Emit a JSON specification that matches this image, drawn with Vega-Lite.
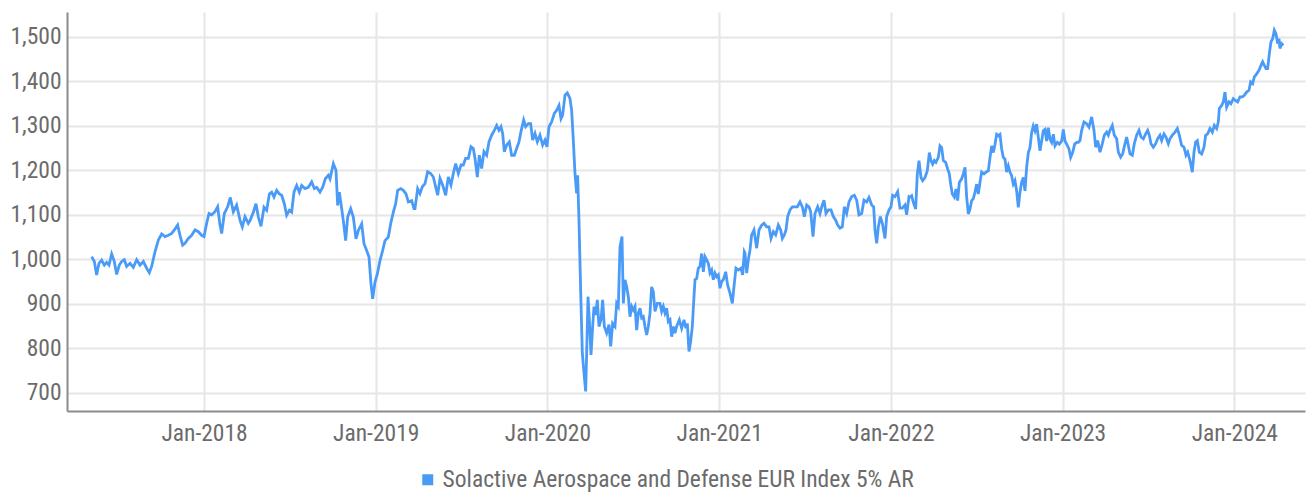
{
"$schema": "https://vega.github.io/schema/vega-lite/v6.json",
"width": 1238, "height": 399,
"autosize": {"type": "none"},
"padding": {"left": 67, "top": 12, "right": 1, "bottom": 83},
"background": "white",
"config": {"view": {"stroke": null}, "font": "Roboto Condensed, Roboto, sans-serif"},
"data": {"values": [
{"year":2017.3458,"value":1006},{"year":2017.3614,"value":995},{"year":2017.3749,"value":965},{"year":2017.3885,"value":991},{"year":2017.4041,"value":998},{"year":2017.4196,"value":987},{"year":2017.4332,"value":993},{"year":2017.4468,"value":987},{"year":2017.4623,"value":1012},{"year":2017.4778,"value":995},{"year":2017.4914,"value":966},{"year":2017.5069,"value":987},{"year":2017.5205,"value":995},{"year":2017.5360,"value":999},{"year":2017.5496,"value":984},{"year":2017.5690,"value":991},{"year":2017.5885,"value":982},{"year":2017.6079,"value":999},{"year":2017.6273,"value":987},{"year":2017.6467,"value":995},{"year":2017.6661,"value":980},{"year":2017.6816,"value":970},{"year":2017.6952,"value":984},{"year":2017.7146,"value":1017},{"year":2017.7340,"value":1043},{"year":2017.7535,"value":1057},{"year":2017.7729,"value":1051},{"year":2017.7923,"value":1054},{"year":2017.8117,"value":1058},{"year":2017.8272,"value":1066},{"year":2017.8466,"value":1077},{"year":2017.8602,"value":1054},{"year":2017.8757,"value":1032},{"year":2017.8893,"value":1036},{"year":2017.9087,"value":1047},{"year":2017.9282,"value":1054},{"year":2017.9476,"value":1066},{"year":2017.9670,"value":1062},{"year":2017.9864,"value":1054},{"year":2018.0000,"value":1051},{"year":2018.0155,"value":1081},{"year":2018.0291,"value":1103},{"year":2018.0446,"value":1100},{"year":2018.0640,"value":1107},{"year":2018.0796,"value":1118},{"year":2018.0931,"value":1077},{"year":2018.1029,"value":1058},{"year":2018.1184,"value":1103},{"year":2018.1378,"value":1118},{"year":2018.1533,"value":1139},{"year":2018.1708,"value":1107},{"year":2018.1902,"value":1122},{"year":2018.2096,"value":1088},{"year":2018.2232,"value":1073},{"year":2018.2387,"value":1096},{"year":2018.2581,"value":1081},
{"year":2018.2679,"value":1087},{"year":2018.2873,"value":1106},{"year":2018.3028,"value":1125},{"year":2018.3164,"value":1095},{"year":2018.3320,"value":1074},{"year":2018.3494,"value":1117},{"year":2018.3650,"value":1110},{"year":2018.3805,"value":1147},{"year":2018.3941,"value":1151},{"year":2018.4077,"value":1140},{"year":2018.4232,"value":1155},{"year":2018.4387,"value":1147},{"year":2018.4523,"value":1144},{"year":2018.4678,"value":1125},{"year":2018.4814,"value":1099},{"year":2018.4969,"value":1110},{"year":2018.5105,"value":1106},{"year":2018.5241,"value":1151},{"year":2018.5397,"value":1166},{"year":2018.5552,"value":1151},{"year":2018.5688,"value":1166},{"year":2018.5882,"value":1159},{"year":2018.6076,"value":1162},{"year":2018.6270,"value":1174},{"year":2018.6425,"value":1159},{"year":2018.6561,"value":1162},{"year":2018.6755,"value":1151},{"year":2018.6911,"value":1162},{"year":2018.7066,"value":1181},{"year":2018.7241,"value":1189},{"year":2018.7338,"value":1181},{"year":2018.7532,"value":1215},{"year":2018.7687,"value":1200},{"year":2018.7784,"value":1121},{"year":2018.7881,"value":1151},{"year":2018.7978,"value":1125},{"year":2018.8114,"value":1087},{"year":2018.8250,"value":1042},{"year":2018.8366,"value":1095},{"year":2018.8541,"value":1114},{"year":2018.8696,"value":1095},{"year":2018.8852,"value":1046},{"year":2018.8988,"value":1065},{"year":2018.9182,"value":1080},{"year":2018.9318,"value":1035},{"year":2018.9473,"value":1020},{"year":2018.9609,"value":1005},{"year":2018.9725,"value":945},{"year":2018.9822,"value":911},{"year":2018.9958,"value":949},{"year":2019.0094,"value":967},{"year":2019.0249,"value":997},{"year":2019.0405,"value":1020},{"year":2019.0540,"value":1042},{"year":2019.0735,"value":1050},{"year":2019.0870,"value":1080},{"year":2019.1026,"value":1106},{"year":2019.1162,"value":1125},{"year":2019.1278,"value":1155},{"year":2019.1453,"value":1159},{"year":2019.1608,"value":1155},{"year":2019.1763,"value":1147},{"year":2019.1899,"value":1129},{"year":2019.2093,"value":1132},{"year":2019.2229,"value":1114},
{"year":2019.2287,"value":1114},{"year":2019.2442,"value":1159},{"year":2019.2578,"value":1148},{"year":2019.2714,"value":1163},{"year":2019.2869,"value":1170},{"year":2019.3025,"value":1197},{"year":2019.3199,"value":1193},{"year":2019.3355,"value":1185},{"year":2019.3490,"value":1163},{"year":2019.3607,"value":1144},{"year":2019.3743,"value":1182},{"year":2019.3898,"value":1167},{"year":2019.4073,"value":1144},{"year":2019.4228,"value":1185},{"year":2019.4383,"value":1167},{"year":2019.4519,"value":1193},{"year":2019.4655,"value":1215},{"year":2019.4810,"value":1193},{"year":2019.4966,"value":1212},{"year":2019.5102,"value":1212},{"year":2019.5237,"value":1227},{"year":2019.5393,"value":1227},{"year":2019.5548,"value":1253},{"year":2019.5684,"value":1249},{"year":2019.5781,"value":1227},{"year":2019.5917,"value":1185},{"year":2019.6033,"value":1234},{"year":2019.6169,"value":1204},{"year":2019.6305,"value":1242},{"year":2019.6460,"value":1234},{"year":2019.6596,"value":1264},{"year":2019.6751,"value":1279},{"year":2019.6907,"value":1290},{"year":2019.7043,"value":1301},{"year":2019.7178,"value":1290},{"year":2019.7295,"value":1298},{"year":2019.7392,"value":1283},{"year":2019.7489,"value":1242},{"year":2019.7625,"value":1257},{"year":2019.7780,"value":1264},{"year":2019.7916,"value":1234},{"year":2019.8071,"value":1234},{"year":2019.8207,"value":1249},{"year":2019.8343,"value":1264},{"year":2019.8459,"value":1287},{"year":2019.8615,"value":1313},{"year":2019.8731,"value":1298},{"year":2019.8887,"value":1305},{"year":2019.9022,"value":1305},{"year":2019.9139,"value":1268},{"year":2019.9275,"value":1283},{"year":2019.9411,"value":1264},{"year":2019.9566,"value":1279},{"year":2019.9721,"value":1257},{"year":2019.9857,"value":1268},{"year":2019.9974,"value":1253},{"year":2020.0090,"value":1298},{"year":2020.0245,"value":1309},{"year":2020.0401,"value":1328},{"year":2020.0537,"value":1335},{"year":2020.0672,"value":1346},{"year":2020.0789,"value":1316},{"year":2020.0886,"value":1324},{"year":2020.1022,"value":1369},{"year":2020.1158,"value":1374},{"year":2020.1313,"value":1361},{"year":2020.1410,"value":1335},{"year":2020.1507,"value":1268},{"year":2020.1604,"value":1193},{"year":2020.1701,"value":1148},{"year":2020.1759,"value":1189},{"year":2020.1837,"value":1088},{"year":2020.1895,"value":994},
{"year":2020.1954,"value":901},{"year":2020.2032,"value":789},{"year":2020.2129,"value":744},{"year":2020.2226,"value":703},{"year":2020.2284,"value":789},{"year":2020.2362,"value":916},{"year":2020.2440,"value":864},{"year":2020.2537,"value":785},{"year":2020.2634,"value":849},{"year":2020.2711,"value":894},{"year":2020.2808,"value":875},{"year":2020.2905,"value":909},{"year":2020.3002,"value":849},{"year":2020.3119,"value":864},{"year":2020.3216,"value":909},{"year":2020.3313,"value":849},{"year":2020.3449,"value":834},{"year":2020.3585,"value":853},{"year":2020.3682,"value":804},{"year":2020.3798,"value":856},{"year":2020.3934,"value":849},{"year":2020.4031,"value":901},{"year":2020.4128,"value":894},{"year":2020.4225,"value":1028},{"year":2020.4342,"value":1051},{"year":2020.4419,"value":901},{"year":2020.4516,"value":954},{"year":2020.4614,"value":939},{"year":2020.4711,"value":916},{"year":2020.4808,"value":871},{"year":2020.4905,"value":894},{"year":2020.5002,"value":886},{"year":2020.5099,"value":894},{"year":2020.5196,"value":841},{"year":2020.5293,"value":879},{"year":2020.5390,"value":890},{"year":2020.5487,"value":868},{"year":2020.5584,"value":871},{"year":2020.5681,"value":849},{"year":2020.5778,"value":830},{"year":2020.5875,"value":849},{"year":2020.5972,"value":879},{"year":2020.6069,"value":938},{"year":2020.6166,"value":927},{"year":2020.6263,"value":883},{"year":2020.6399,"value":901},{"year":2020.6555,"value":901},{"year":2020.6652,"value":883},{"year":2020.6749,"value":894},{"year":2020.6846,"value":879},{"year":2020.6943,"value":890},{"year":2020.7040,"value":860},{"year":2020.7137,"value":864},{"year":2020.7234,"value":826},{"year":2020.7331,"value":849},{"year":2020.7428,"value":834},{"year":2020.7525,"value":849},{"year":2020.7680,"value":864},{"year":2020.7816,"value":845},{"year":2020.7952,"value":864},{"year":2020.8068,"value":845},{"year":2020.8146,"value":856},{"year":2020.8243,"value":793},{"year":2020.8340,"value":815},{"year":2020.8437,"value":849},{"year":2020.8534,"value":916},{"year":2020.8593,"value":954},{"year":2020.8690,"value":957},{"year":2020.8787,"value":980},{"year":2020.8884,"value":984},{"year":2020.8981,"value":1013},{"year":2020.9078,"value":972},{"year":2020.9175,"value":1006},{"year":2020.9272,"value":999},{"year":2020.9369,"value":991},{"year":2020.9466,"value":969},{"year":2020.9563,"value":976},{"year":2020.9660,"value":954},{"year":2020.9757,"value":969},{"year":2020.9854,"value":961},{"year":2020.9951,"value":965},{"year":2021.0049,"value":935},{"year":2021.0146,"value":950},{"year":2021.0243,"value":954},{"year":2021.0379,"value":972},{"year":2021.0495,"value":942},{"year":2021.0631,"value":924},{"year":2021.0767,"value":901},{"year":2021.0883,"value":946},{"year":2021.0980,"value":980},{"year":2021.1116,"value":976},{"year":2021.1272,"value":980},{"year":2021.1369,"value":965},{"year":2021.1466,"value":1017},
{"year":2021.1505,"value":1014},{"year":2021.1602,"value":969},{"year":2021.1699,"value":999},{"year":2021.1796,"value":1021},{"year":2021.1893,"value":1055},{"year":2021.2029,"value":1066},{"year":2021.2184,"value":1025},{"year":2021.2320,"value":1066},{"year":2021.2476,"value":1077},{"year":2021.2611,"value":1081},{"year":2021.2767,"value":1073},{"year":2021.2903,"value":1073},{"year":2021.3019,"value":1047},{"year":2021.3155,"value":1062},{"year":2021.3291,"value":1055},{"year":2021.3446,"value":1077},{"year":2021.3582,"value":1066},{"year":2021.3679,"value":1047},{"year":2021.3795,"value":1055},{"year":2021.3893,"value":1066},{"year":2021.3990,"value":1096},{"year":2021.4125,"value":1111},{"year":2021.4261,"value":1118},{"year":2021.4417,"value":1118},{"year":2021.4552,"value":1118},{"year":2021.4708,"value":1129},{"year":2021.4844,"value":1118},{"year":2021.4960,"value":1096},{"year":2021.5096,"value":1122},{"year":2021.5232,"value":1118},{"year":2021.5329,"value":1107},{"year":2021.5465,"value":1051},{"year":2021.5581,"value":1103},{"year":2021.5737,"value":1118},{"year":2021.5872,"value":1103},{"year":2021.5970,"value":1118},{"year":2021.6105,"value":1133},{"year":2021.6222,"value":1103},{"year":2021.6358,"value":1111},{"year":2021.6513,"value":1111},{"year":2021.6649,"value":1096},{"year":2021.6785,"value":1088},{"year":2021.6901,"value":1077},{"year":2021.7037,"value":1070},{"year":2021.7173,"value":1073},{"year":2021.7289,"value":1118},{"year":2021.7425,"value":1103},{"year":2021.7561,"value":1129},{"year":2021.7716,"value":1141},{"year":2021.7872,"value":1144},{"year":2021.8008,"value":1133},{"year":2021.8144,"value":1100},{"year":2021.8299,"value":1103},{"year":2021.8435,"value":1133},{"year":2021.8590,"value":1129},{"year":2021.8726,"value":1139},{"year":2021.8881,"value":1122},{"year":2021.8998,"value":1118},{"year":2021.9075,"value":1066},{"year":2021.9172,"value":1036},{"year":2021.9269,"value":1073},{"year":2021.9386,"value":1096},{"year":2021.9502,"value":1081},{"year":2021.9658,"value":1047},{"year":2021.9755,"value":1096},{"year":2021.9891,"value":1111},{"year":2022.0007,"value":1118},{"year":2022.0104,"value":1144},{"year":2022.0240,"value":1141},{"year":2022.0395,"value":1152},{"year":2022.0531,"value":1115},{"year":2022.0667,"value":1115},{"year":2022.0822,"value":1122},{"year":2022.0919,"value":1100},{"year":2022.1055,"value":1141},
{"year":2022.1113,"value":1140},{"year":2022.1210,"value":1143},{"year":2022.1307,"value":1128},{"year":2022.1443,"value":1113},{"year":2022.1540,"value":1192},{"year":2022.1637,"value":1222},{"year":2022.1754,"value":1184},{"year":2022.1851,"value":1177},{"year":2022.1986,"value":1184},{"year":2022.2122,"value":1199},{"year":2022.2239,"value":1240},{"year":2022.2336,"value":1222},{"year":2022.2433,"value":1214},{"year":2022.2530,"value":1222},{"year":2022.2627,"value":1218},{"year":2022.2763,"value":1229},{"year":2022.2860,"value":1255},{"year":2022.2957,"value":1251},{"year":2022.3054,"value":1222},{"year":2022.3190,"value":1218},{"year":2022.3306,"value":1203},{"year":2022.3403,"value":1192},{"year":2022.3481,"value":1169},{"year":2022.3578,"value":1147},{"year":2022.3695,"value":1140},{"year":2022.3792,"value":1158},{"year":2022.3889,"value":1132},{"year":2022.3986,"value":1173},{"year":2022.4122,"value":1181},{"year":2022.4219,"value":1192},{"year":2022.4316,"value":1207},{"year":2022.4413,"value":1140},{"year":2022.4510,"value":1102},{"year":2022.4607,"value":1113},{"year":2022.4704,"value":1132},{"year":2022.4801,"value":1136},{"year":2022.4898,"value":1151},{"year":2022.4995,"value":1169},{"year":2022.5092,"value":1147},{"year":2022.5189,"value":1173},{"year":2022.5286,"value":1196},{"year":2022.5422,"value":1192},{"year":2022.5539,"value":1196},{"year":2022.5675,"value":1199},{"year":2022.5772,"value":1229},{"year":2022.5869,"value":1255},{"year":2022.5966,"value":1240},{"year":2022.6063,"value":1258},{"year":2022.6160,"value":1281},{"year":2022.6257,"value":1278},{"year":2022.6354,"value":1281},{"year":2022.6451,"value":1248},{"year":2022.6548,"value":1229},{"year":2022.6645,"value":1225},{"year":2022.6742,"value":1196},{"year":2022.6839,"value":1210},{"year":2022.6936,"value":1196},{"year":2022.7033,"value":1188},{"year":2022.7130,"value":1169},{"year":2022.7227,"value":1177},{"year":2022.7324,"value":1154},{"year":2022.7421,"value":1117},{"year":2022.7519,"value":1151},{"year":2022.7616,"value":1173},{"year":2022.7713,"value":1184},{"year":2022.7810,"value":1154},{"year":2022.7907,"value":1207},{"year":2022.8004,"value":1240},{"year":2022.8101,"value":1251},{"year":2022.8198,"value":1285},{"year":2022.8295,"value":1300},{"year":2022.8392,"value":1289},{"year":2022.8489,"value":1304},{"year":2022.8586,"value":1274},{"year":2022.8683,"value":1244},{"year":2022.8780,"value":1266},{"year":2022.8877,"value":1289},{"year":2022.8974,"value":1292},{"year":2022.9071,"value":1266},{"year":2022.9168,"value":1296},{"year":2022.9266,"value":1270},{"year":2022.9363,"value":1263},{"year":2022.9460,"value":1281},{"year":2022.9557,"value":1255},{"year":2022.9693,"value":1263},{"year":2022.9809,"value":1259},{"year":2022.9945,"value":1266},{"year":2023.0042,"value":1292},{"year":2023.0139,"value":1266},{"year":2023.0236,"value":1259},{"year":2023.0372,"value":1248},{"year":2023.0469,"value":1229},{"year":2023.0585,"value":1240},{"year":2023.0702,"value":1259},{"year":2023.0818,"value":1263},{"year":2023.0915,"value":1263},
{"year":2023.1013,"value":1267},{"year":2023.1110,"value":1290},{"year":2023.1246,"value":1309},{"year":2023.1401,"value":1305},{"year":2023.1537,"value":1297},{"year":2023.1692,"value":1320},{"year":2023.1828,"value":1290},{"year":2023.1925,"value":1252},{"year":2023.2042,"value":1267},{"year":2023.2178,"value":1241},{"year":2023.2314,"value":1260},{"year":2023.2430,"value":1279},{"year":2023.2566,"value":1286},{"year":2023.2663,"value":1279},{"year":2023.2760,"value":1290},{"year":2023.2896,"value":1301},{"year":2023.3012,"value":1279},{"year":2023.3148,"value":1271},{"year":2023.3245,"value":1241},{"year":2023.3381,"value":1230},{"year":2023.3498,"value":1237},{"year":2023.3633,"value":1260},{"year":2023.3731,"value":1275},{"year":2023.3828,"value":1256},{"year":2023.3925,"value":1237},{"year":2023.4060,"value":1234},{"year":2023.4177,"value":1260},{"year":2023.4313,"value":1279},{"year":2023.4449,"value":1290},{"year":2023.4565,"value":1275},{"year":2023.4701,"value":1271},{"year":2023.4837,"value":1282},{"year":2023.4953,"value":1290},{"year":2023.5050,"value":1279},{"year":2023.5147,"value":1260},{"year":2023.5283,"value":1252},{"year":2023.5419,"value":1260},{"year":2023.5536,"value":1271},{"year":2023.5672,"value":1279},{"year":2023.5769,"value":1267},{"year":2023.5905,"value":1282},{"year":2023.6021,"value":1275},{"year":2023.6157,"value":1260},{"year":2023.6254,"value":1271},{"year":2023.6390,"value":1279},{"year":2023.6545,"value":1286},{"year":2023.6681,"value":1294},{"year":2023.6797,"value":1279},{"year":2023.6933,"value":1256},{"year":2023.7069,"value":1252},{"year":2023.7185,"value":1234},{"year":2023.7283,"value":1241},{"year":2023.7419,"value":1222},{"year":2023.7555,"value":1196},{"year":2023.7652,"value":1241},{"year":2023.7749,"value":1264},{"year":2023.7846,"value":1267},{"year":2023.7962,"value":1241},{"year":2023.8098,"value":1237},{"year":2023.8234,"value":1252},{"year":2023.8331,"value":1279},{"year":2023.8447,"value":1282},{"year":2023.8583,"value":1294},{"year":2023.8719,"value":1286},{"year":2023.8836,"value":1301},{"year":2023.8972,"value":1294},{"year":2023.9069,"value":1309},{"year":2023.9127,"value":1339},{"year":2023.9263,"value":1346},{"year":2023.9360,"value":1354},{"year":2023.9457,"value":1376},{"year":2023.9554,"value":1342},{"year":2023.9690,"value":1354},{"year":2023.9806,"value":1350},{"year":2023.9942,"value":1361},{"year":2024.0078,"value":1357},{"year":2024.0194,"value":1354},{"year":2024.0330,"value":1365},{"year":2024.0466,"value":1365},{"year":2024.0583,"value":1369},{"year":2024.0719,"value":1376},{"year":2024.0855,"value":1380},{"year":2024.0952,"value":1399},{"year":2024.1068,"value":1395},{"year":2024.1165,"value":1410},{"year":2024.1301,"value":1417},{"year":2024.1437,"value":1425},{"year":2024.1553,"value":1436},{"year":2024.1650,"value":1444},{"year":2024.1747,"value":1436},{"year":2024.1844,"value":1429},{"year":2024.1941,"value":1429},{"year":2024.2038,"value":1462},{"year":2024.2135,"value":1489},{"year":2024.2232,"value":1496},{"year":2024.2329,"value":1515},{"year":2024.2426,"value":1507},{"year":2024.2523,"value":1485},{"year":2024.2601,"value":1496},{"year":2024.2659,"value":1474},{"year":2024.2756,"value":1485},{"year":2024.2853,"value":1481}
]},
"mark": {"type": "line", "strokeWidth": 2.8, "interpolate": "linear", "clip": true},
"encoding": {
"x": {"field": "year", "type": "quantitative",
 "scale": {"domain": [2017.2022, 2024.4116], "nice": false, "zero": false},
 "axis": {"values": [2018, 2019, 2020, 2021, 2022, 2023, 2024], "labelExpr": "'Jan-' + datum.value", "title": null, "grid": true, "gridColor": "#e6e6e6", "gridWidth": 2, "ticks": false, "domainColor": "#8c8c8c", "domainWidth": 2, "labelFontSize": 23.5, "labelColor": "#6b6b6b", "labelPadding": 10, "labelFlush": false, "labelOverlap": false}},
"y": {"field": "value", "type": "quantitative",
 "scale": {"domain": [659, 1556], "nice": false, "zero": false},
 "axis": {"values": [700, 800, 900, 1000, 1100, 1200, 1300, 1400, 1500], "format": ",d", "title": null, "grid": true, "gridColor": "#e6e6e6", "gridWidth": 2, "ticks": false, "domainColor": "#8c8c8c", "domainWidth": 2, "labelFontSize": 23.5, "labelColor": "#6b6b6b", "labelPadding": 6}},
"color": {"datum": "Solactive Aerospace and Defense EUR Index 5% AR", "type": "nominal",
 "scale": {"range": ["#4a9bf7"]},
 "legend": {"orient": "none", "legendX": 349, "legendY": 456, "title": null, "symbolType": "square", "symbolSize": 121, "labelFontSize": 23.5, "labelColor": "#6b6b6b", "labelOffset": 3, "labelLimit": 1000,
  "encode": {"symbols": {"update": {"fill": {"value": "#4a9bf7"}, "stroke": {"value": "#4a9bf7"}, "strokeWidth": {"value": 0}, "opacity": {"value": 1}}}}}}
}
}
